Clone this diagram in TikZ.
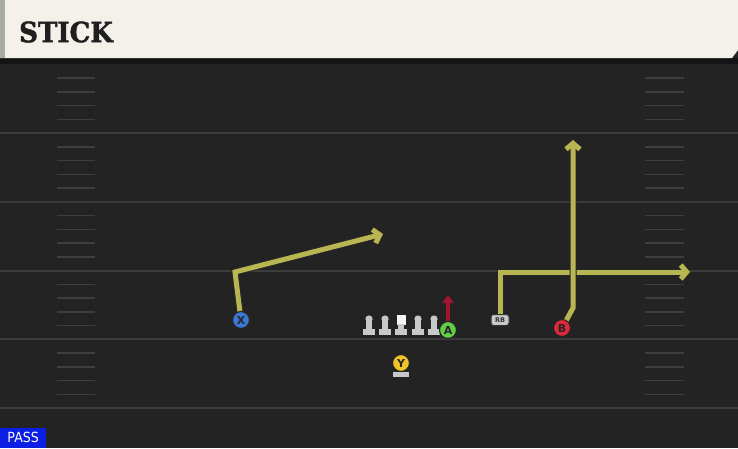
\documentclass[tikz,border=0pt]{standalone}
\usepackage{fontspec}
\setmainfont{DejaVu Sans}
\newfontfamily\titlefont{DejaVu Serif}[FakeBold=1.5,FakeStretch=0.93]
\usetikzlibrary{arrows.meta}

\definecolor{fieldgray}{RGB}{35,35,35}
\definecolor{headercream}{RGB}{244,241,234}
\definecolor{stripgray}{RGB}{168,170,166}
\definecolor{yardline}{RGB}{60,60,60}
\definecolor{hashline}{RGB}{62,62,62}
\definecolor{routeyellow}{RGB}{184,182,82}
\definecolor{blockred}{RGB}{160,20,45}
\definecolor{xblue}{RGB}{58,120,212}
\definecolor{agreen}{RGB}{96,206,70}
\definecolor{bred}{RGB}{224,40,58}
\definecolor{yyellow}{RGB}{240,196,40}
\definecolor{olgray}{RGB}{200,200,200}
\definecolor{passblue}{RGB}{10,30,228}

\tikzset{
  player/.style={circle,draw=black!85,line width=1.2pt,minimum size=17pt,inner sep=0pt,
    font=\bfseries\fontsize{11}{11}\selectfont,text=black!85},
  route/.style={line width=5pt,draw=routeyellow,-{Straight Barb[length=6pt,width=14pt]},
    preaction={draw=black!85,line width=7pt}},
  block/.style={line width=4.5pt,draw=blockred,-{Triangle[length=8pt,width=11pt]}},
  lineman/.pic={
    \fill[olgray] (0,-7) circle (3.6);
    \fill[olgray] (-2.8,-6) rectangle (2.8,3);
    \fill[olgray] (-6,3) rectangle (6,9);
  },
  center/.pic={
    \fill[white!92!gray] (-4.5,-11) rectangle (4.5,-1);
    \fill[olgray] (-2.8,-2) rectangle (2.8,3);
    \fill[olgray] (-6,3) rectangle (6,9);
  }
}

\begin{document}
\begin{tikzpicture}[x=1pt,y=-1pt]

  % field and header
  \fill[fieldgray] (0,0) rectangle (738,448);
  \useasboundingbox (0,0) rectangle (738,448);
  \fill[black!92] (0,58) rectangle (738,64);
  \fill[headercream] (0,0) -- (738,0) -- (738,50) -- (732,58) -- (0,58) -- cycle;
  \fill[stripgray] (0,0) rectangle (5,58);
  \node[anchor=west,font=\titlefont\bfseries\fontsize{28}{28}\selectfont,text=black!88,inner sep=0pt]
    (title) at (19,32) {STICK};

  % yard lines and hash marks
  \foreach \n in {1,...,5}
    \draw[yardline,line width=2pt] (0,64.5+68.7*\n) -- (738,64.5+68.7*\n);
  \foreach \n in {0,...,4}
    \foreach \k in {1,...,4} {
      \draw[hashline,line width=1.5pt] (57,64.5+68.7*\n+13.74*\k) -- (95,64.5+68.7*\n+13.74*\k);
      \draw[hashline,line width=1.5pt] (645,64.5+68.7*\n+13.74*\k) -- (684,64.5+68.7*\n+13.74*\k);
    }

  % offensive line
  \pic at (369,326) {lineman};
  \pic at (385,326) {lineman};
  \pic at (401,326) {center};
  \pic at (418,326) {lineman};
  \pic at (434,326) {lineman};
  \fill[olgray] (393,372) rectangle (409,377);

  % route points
  \coordinate (xbreak) at (235,272);
  \coordinate (xend) at (383,234);
  \coordinate (rbbreak) at (500,272);
  \coordinate (rbend) at (690,272);
  \coordinate (bbreak) at (573,308);
  \coordinate (bend) at (573,140);
  \coordinate (aend) at (448,295);

  % routes
  \draw[route] (241,320) -- (xbreak) -- (xend);
  \draw[route] (500,320) -- (rbbreak) -- (rbend);
  \draw[route] (562,328) -- (bbreak) -- (bend);
  \draw[block] (448,330) -- (aend);

  % players
  \node[player,fill=xblue]   (X)  at (241,320) {X};
  \node[player,fill=agreen]  (A)  at (448,330) {A};
  \node[player,fill=bred]    (B)  at (562,328) {B};
  \node[player,fill=yyellow] (Y)  at (401,363) {Y};
  \node[draw=black!80,line width=1pt,fill=olgray,rounded corners=2.5pt,minimum width=18pt,minimum height=11pt,
    inner sep=0pt,font=\bfseries\fontsize{6.5}{6.5}\selectfont,text=black!80] (RB) at (500,320) {RB};

  % play type
  \node[fill=passblue,text=white,anchor=south west,minimum width=46pt,minimum height=20pt,
    inner sep=0pt,font=\fontsize{14}{14}\selectfont\addfontfeatures{FakeStretch=0.9}] (pass) at (0,448) {PASS};

\end{tikzpicture}
\end{document}
